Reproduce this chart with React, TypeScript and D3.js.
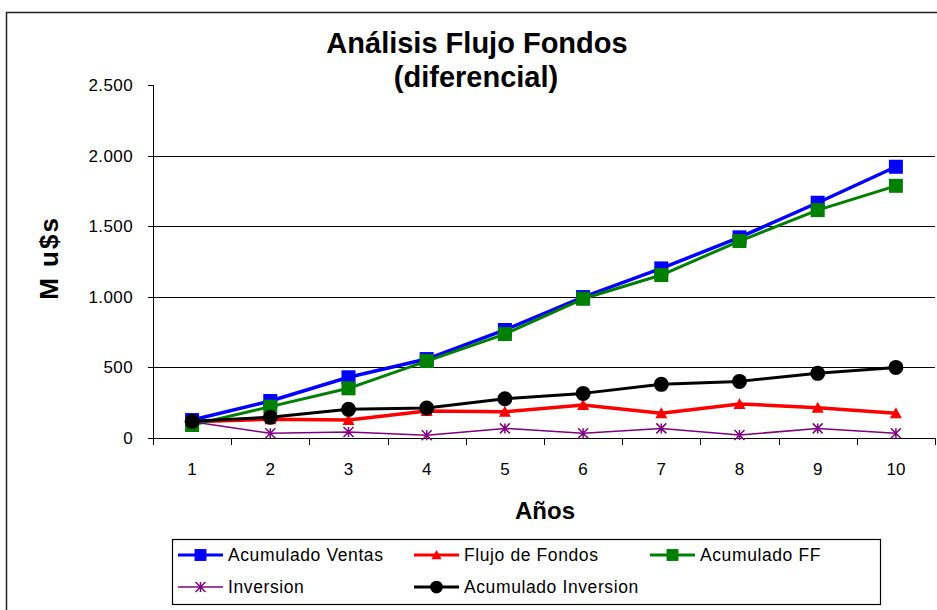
import React from 'react';
import * as d3 from 'd3';

const years = ['1', '2', '3', '4', '5', '6', '7', '8', '9', '10'];
const acumVentas = [127, 262, 430, 559, 765, 998, 1201, 1421, 1666, 1921];
const flujoFondos = [115, 132, 127, 191, 186, 234, 175, 241, 215, 175];
const acumFF = [92, 222, 352, 545, 736, 986, 1154, 1395, 1614, 1786];
const inversion = [115, 33, 42, 19, 68, 33, 68, 21, 68, 33];
const acumInversion = [118, 147, 203, 212, 278, 316, 380, 401, 458, 500];

const yTicks = [0, 500, 1000, 1500, 2000, 2500];
const yTickLabels = ['0', '500', '1.000', '1.500', '2.000', '2.500'];

const seriesNames = ['Acumulado Ventas', 'Flujo de Fondos', 'Acumulado FF', 'Inversion', 'Acumulado Inversion'];

type Marker = 'square' | 'triangle' | 'circle' | 'star';

const FONT = "'Liberation Sans', Arial, Helvetica, sans-serif";

function MarkerShape({ type, color, x, y, scale = 1 }: { type: Marker; color: string; x: number; y: number; scale?: number }) {
  if (type === 'square') {
    const s = 14 * scale;
    return <rect x={x - s / 2} y={y - s / 2} width={s} height={s} fill={color} />;
  }
  if (type === 'circle') {
    return <circle cx={x} cy={y} r={7.5 * scale} fill={color} />;
  }
  if (type === 'triangle') {
    const w = 6 * scale;
    return <path d={`M${x},${y - 6 * scale}L${x + w},${y + 5 * scale}L${x - w},${y + 5 * scale}Z`} fill={color} />;
  }
  const r = 5 * scale;
  const d = `M${x},${y - r}L${x},${y + r}M${x - r},${y - r}L${x + r},${y + r}M${x - r},${y + r}L${x + r},${y - r}`;
  return <path d={d} stroke={color} strokeWidth={1.5} fill="none" />;
}

export default function App() {
  const W = 937;
  const H = 610;
  const x0 = 153;
  const x1 = 935;
  const yTop = 85;
  const yBot = 438;

  const x = d3.scaleBand<string>().domain(years).range([x0, x1]);
  const y = d3.scaleLinear().domain([0, 2500]).range([yBot, yTop]);
  const cx = (i: number) => (x(years[i]) as number) + x.bandwidth() / 2;
  const line = d3
    .line<number>()
    .x((_, i) => cx(i))
    .y((d) => y(d));

  const series: { name: string; values: number[]; color: string; width: number; marker: Marker }[] = [
    { name: seriesNames[0], values: acumVentas, color: '#0000FF', width: 3.5, marker: 'square' },
    { name: seriesNames[1], values: flujoFondos, color: '#FF0000', width: 3.5, marker: 'triangle' },
    { name: seriesNames[2], values: acumFF, color: '#008000', width: 3, marker: 'square' },
    { name: seriesNames[3], values: inversion, color: '#800080', width: 1.5, marker: 'star' },
    { name: seriesNames[4], values: acumInversion, color: '#000000', width: 3, marker: 'circle' },
  ];

  const bandEdges = years.map((d) => x(d) as number).concat([x1]);

  // legend layout
  const legCols = [178, 414, 650];
  const legRows = [555, 587];

  return (
    <svg width={W} height={H} style={{ position: 'absolute', left: 0, top: 0, background: '#fff' }}>
      <rect x={6.5} y={12.5} width={W + 10} height={H + 10} fill="#fff" stroke="#222" strokeWidth={1.5} />

      {/* title */}
      <text x={477} y={53} textAnchor="middle" fontFamily={FONT} fontWeight="bold" fontSize={29} fill="#000">
        Análisis Flujo Fondos
      </text>
      <text x={476} y={87} textAnchor="middle" fontFamily={FONT} fontWeight="bold" fontSize={29} fill="#000">
        (diferencial)
      </text>

      {/* gridlines */}
      {yTicks
        .filter((t) => t > 0 && t < 2500)
        .map((t) => (
          <line key={'g' + t} x1={x0} x2={x1} y1={Math.round(y(t)) + 0.5} y2={Math.round(y(t)) + 0.5} stroke="#000" strokeWidth={1} />
        ))}

      {/* y axis */}
      <line x1={x0 + 0.5} x2={x0 + 0.5} y1={yTop} y2={yBot} stroke="#000" strokeWidth={1} />
      {yTicks.map((t, i) => (
        <g key={'yt' + t}>
          <line x1={x0 - 5} x2={x0} y1={Math.round(y(t)) + 0.5} y2={Math.round(y(t)) + 0.5} stroke="#000" strokeWidth={1} />
          <text x={133} y={y(t) + 6} textAnchor="end" fontFamily={FONT} fontSize={17} letterSpacing={0.4} fill="#000">
            {yTickLabels[i]}
          </text>
        </g>
      ))}

      {/* x axis */}
      <line x1={x0} x2={x1} y1={yBot + 0.5} y2={yBot + 0.5} stroke="#000" strokeWidth={1.2} />
      {bandEdges.map((e, i) => (
        <line key={'xt' + i} x1={Math.round(e) + 0.5} x2={Math.round(e) + 0.5} y1={yBot} y2={yBot + 7} stroke="#000" strokeWidth={1} />
      ))}
      {years.map((d, i) => (
        <text key={'xl' + d} x={cx(i)} y={475} textAnchor="middle" fontFamily={FONT} fontSize={17} fill="#000">
          {d}
        </text>
      ))}

      {/* axis titles */}
      <text x={545} y={519} textAnchor="middle" fontFamily={FONT} fontWeight="bold" fontSize={24} fill="#000">
        Años
      </text>
      <text
        transform="translate(58,258) rotate(-90)"
        textAnchor="middle"
        fontFamily={FONT}
        fontWeight="bold"
        fontSize={26}
        letterSpacing={2}
        fill="#000"
      >
        M u$s
      </text>

      {/* series */}
      {series.map((s) => (
        <g key={s.name}>
          <path d={line(s.values) || ''} fill="none" stroke={s.color} strokeWidth={s.width} strokeLinejoin="round" />
          {s.values.map((v, i) => (
            <MarkerShape key={i} type={s.marker} color={s.color} x={cx(i)} y={y(v)} />
          ))}
        </g>
      ))}

      {/* legend */}
      <rect x={172.5} y={539.5} width={708} height={65} fill="#fff" stroke="#000" strokeWidth={1.2} />
      {series.map((s, i) => {
        const row = i < 3 ? 0 : 1;
        const lx = legCols[i < 3 ? i : i - 3];
        const ly = legRows[row];
        return (
          <g key={'leg' + s.name}>
            <line x1={lx} x2={lx + 45} y1={ly} y2={ly} stroke={s.color} strokeWidth={s.width === 1.5 ? 1.5 : 3} />
            <MarkerShape type={s.marker} color={s.color} x={lx + 22.5} y={ly} scale={s.marker === 'star' ? 1 : 0.85} />
            <text x={lx + 50} y={ly + 6} fontFamily={FONT} fontSize={17.5} letterSpacing={0.6} fill="#000">
              {s.name}
            </text>
          </g>
        );
      })}
    </svg>
  );
}
